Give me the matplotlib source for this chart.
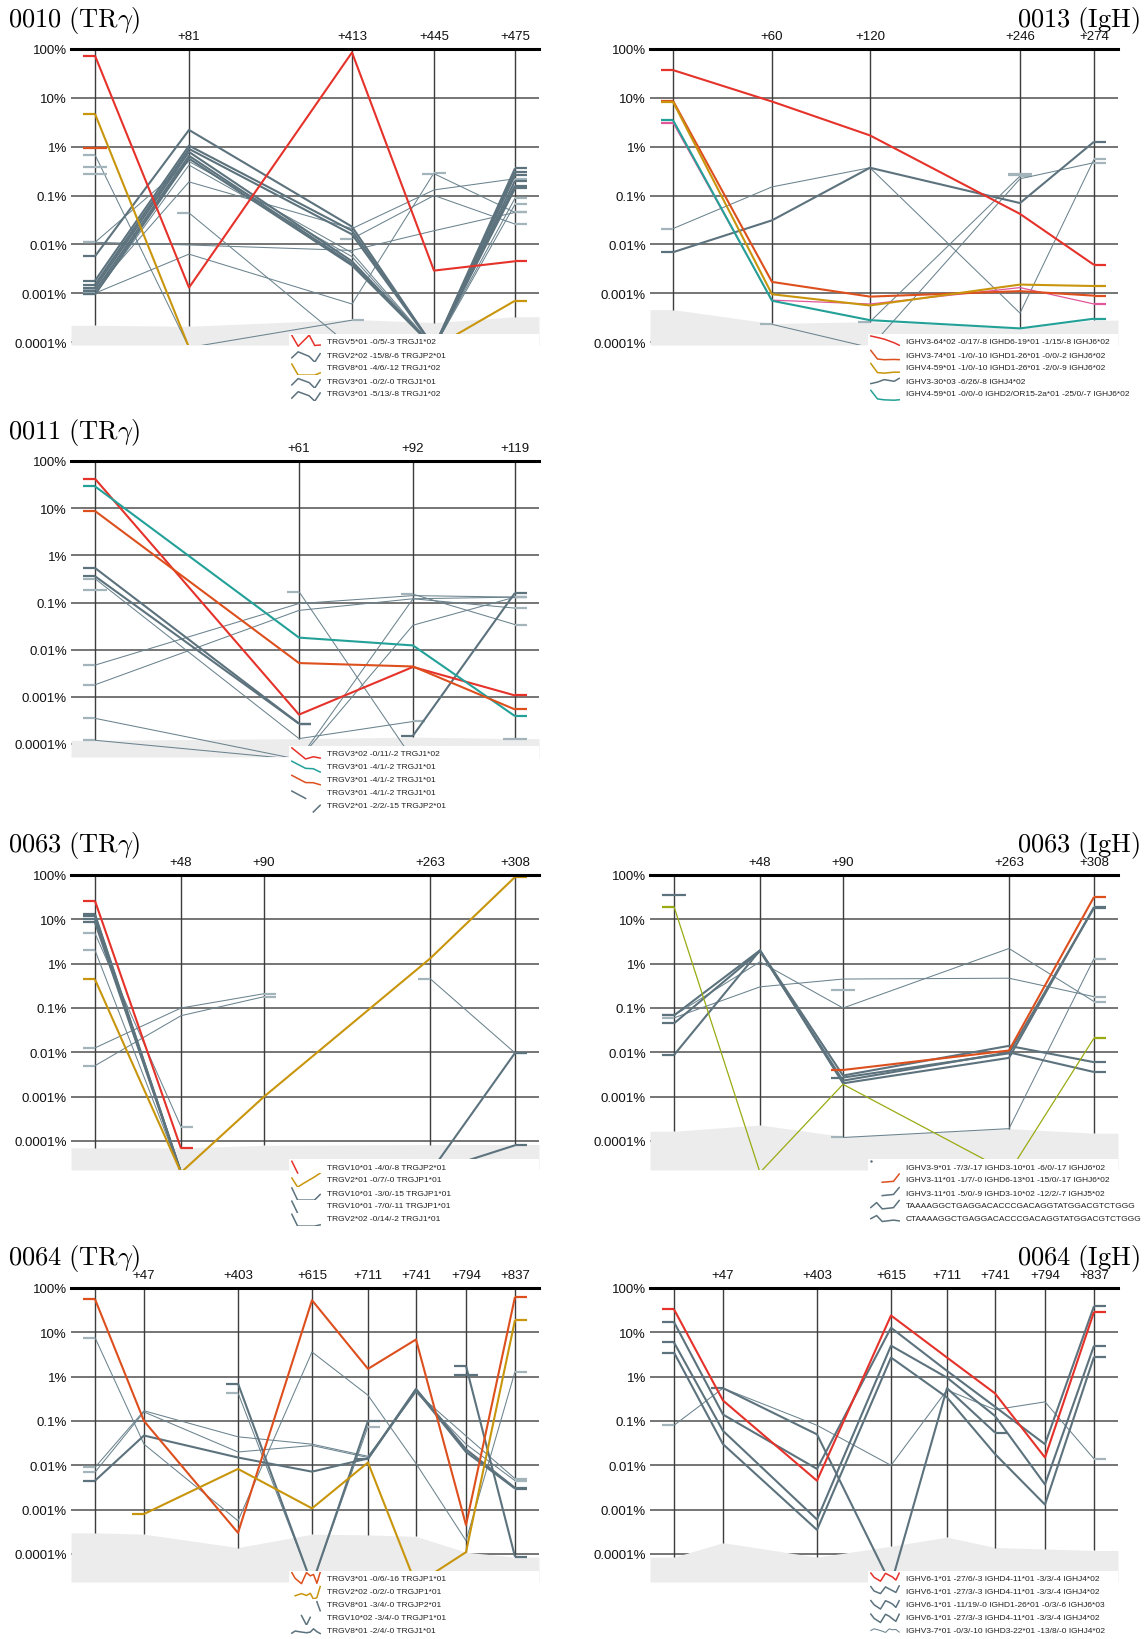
"""Clone frequency trajectories (TRγ / IgH) across follow-up samples, one panel per patient/locus."""
import matplotlib
matplotlib.use("Agg")
import matplotlib.pyplot as plt

plt.rcParams["font.family"] = ["Liberation Sans", "DejaVu Sans"]
plt.rcParams["mathtext.fontset"] = "cm"

# Values are % of reads. None = time point not drawn for this clone,
# 0 = sampled but clone not detected (drawn down to the panel floor).

# ---- 0010 (TRγ) ----
P0010_DAYS = [0, 81, 413, 445, 475]
P0010_LIMIT = [0.00022, 0.00021, 0.00029, 0.00025, 0.00033]
P0010_CLONES = [
    [73, 0.0013, 85, 0.0029, 0.0045],
    [0.0057, 2.2, 0.023, 0, 0.36],
    [4.7, 0, 0, 0, 0.0007],
    [0.0018, 1.05, 0.019, 0, 0.30],
    [0.0015, 0.9, 0.016, 0, 0.26],
    [0.0013, 0.78, 0.0045, 0, 0.20],
    [0.0011, 0.65, 0.0040, 0, 0.16],
    [0.00094, 0.57, 0.0037, 0, 0.14],
    [0.011, 0.5, 0.0067, 0, 0.088],
    [0.00094, 0.42, 0.0056, 0, 0.066],
    [0.0012, 0.19, 0.021, 0.13, 0.22],
    [0.011, 0.0097, 0.0075, 0.019, 0.045],
    [0.001, 0.0063, 0.0006, 0.29, None],
    [None, None, 0.013, 0.1, 0.026],
    [0.68, 0, 0.00028, None, None],
    [None, 0.044, 0, None, None],
    [None, None, None, 0.28, 0.045],
    [0.93, None, None, None, None],
    [0.38, None, None, None, None],
    [0.28, None, None, None, None],
]
P0010_LABELS = [
    "TRGV5*01 -0/5/-3 TRGJ1*02",
    "TRGV2*02 -15/8/-6 TRGJP2*01",
    "TRGV8*01 -4/6/-12 TRGJ1*02",
    "TRGV3*01 -0/2/-0 TRGJ1*01",
    "TRGV3*01 -5/13/-8 TRGJ1*02",
]

# ---- 0013 (IgH) ----
P0013_DAYS = [0, 60, 120, 246, 274]
P0013_LIMIT = [0.00046, 0.00024, 0.00026, 0.00019, 0.00028]
P0013_CLONES = [
    [37, 8.4, 1.7, 0.042, 0.0038],
    [8.7, 0.0017, 0.00085, 0.0011, 0.00089],
    [8.3, 0.00095, 0.00056, 0.0015, 0.0014],
    [0.0069, 0.031, 0.37, 0.07, 1.26],
    [3.5, 0.0007, 0.00028, 0.00019, 0.0003],
    [3.1, 0.00072, 0.0006, 0.0013, 0.0006],
    [0.021, 0.15, 0.37, 0.00039, 0.55],
    [None, 0.00023, 0, None, None],
    [None, None, 0.00026, 0.25, None],
    [None, None, 0, 0.22, 0.47],
    [None, None, None, 0.28, None],
    [None, None, None, 0.26, None],
]
P0013_LABELS = [
    "IGHV3-64*02 -0/17/-8 IGHD6-19*01 -1/15/-8 IGHJ6*02",
    "IGHV3-74*01 -1/0/-10 IGHD1-26*01 -0/0/-2 IGHJ6*02",
    "IGHV4-59*01 -1/0/-10 IGHD1-26*01 -2/0/-9 IGHJ6*02",
    "IGHV3-30*03 -6/26/-8 IGHJ4*02",
    "IGHV4-59*01 -0/0/-0 IGHD2/OR15-2a*01 -25/0/-7 IGHJ6*02",
]

# ---- 0011 (TRγ) ----
P0011_DAYS = [0, 61, 92, 119]
P0011_LIMIT = [0.00012, 0.00013, 0.00014, 0.00013]
P0011_CLONES = [
    [42, 0.00042, 0.0043, 0.00107],
    [29, 0.018, 0.0123, 0.00039],
    [8.7, 0.0052, 0.0044, 0.00054],
    [0.54, 0.00027, None, None],
    [None, None, 0.00015, 0.16],
    [0.36, 0.00027, None, None],
    [0.32, 0.00013, 0.0003, None],
    [0.0047, 0.095, 0.14, 0.13],
    [0.0018, 0.068, 0.12, 0.076],
    [0.00035, 0, None, None],
    [0.00012, 0, None, None],
    [None, 0.17, 0, None],
    [None, 0, 0.12, 0.13],
    [None, 0, 0.033, 0.13],
    [None, None, 0.15, 0.034],
    [0.18, None, None, None],
    [None, None, None, 0.00013],
]
P0011_LABELS = [
    "TRGV3*02 -0/11/-2 TRGJ1*02",
    "TRGV3*01 -4/1/-2 TRGJ1*01",
    "TRGV3*01 -4/1/-2 TRGJ1*01",
    "TRGV3*01 -4/1/-2 TRGJ1*01",
    "TRGV2*01 -2/2/-15 TRGJP2*01",
]

# ---- 0063 (TRγ) ----
P0063T_DAYS = [0, 48, 90, 263, 308]
P0063T_LIMIT = [0.00007, 0.00007, 0.00008, 0.000083, 0.000083]
P0063T_CLONES = [
    [26, 0.000068, None, None, None],
    [0.44, 0, 0.001, 1.3, 90],
    [12, 0, 0, 0, 0.0097],
    [10, 0, None, None, None],
    [8.5, 0, 0, 0, 0.00008],
    [13, 0, None, None, None],
    [4.8, 0.00021, None, None, None],
    [2.0, 0, None, None, None],
    [0.0126, 0.1, 0.21, None, None],
    [0.005, 0.067, 0.18, None, None],
    [None, None, None, 0.46, 0.0097],
]
P0063T_LABELS = [
    "TRGV10*01 -4/0/-8 TRGJP2*01",
    "TRGV2*01 -0/7/-0 TRGJP1*01",
    "TRGV10*01 -3/0/-15 TRGJP1*01",
    "TRGV10*01 -7/0/-11 TRGJP1*01",
    "TRGV2*02 -0/14/-2 TRGJ1*01",
]

# ---- 0063 (IgH) ----
P0063I_DAYS = [0, 48, 90, 263, 308]
P0063I_LIMIT = [0.000166, 0.00023, 0.000126, 0.00019, 0.00015]
P0063I_CLONES = [
    [35, None, None, None, None],
    [None, None, 0.004, 0.011, 32],
    [None, None, 0.0027, 0.0095, 18],
    [0.0087, 2.0, 0.002, 0.0075, 19],
    [0.068, 2.0, 0.003, 0.014, 0.006],
    [0.045, 1.9, 0.0023, 0.01, 0.0036],
    [19.4, 0, 0.0019, 0, 0.021],
    [0.068, 1.1, 0.1, 2.2, 0.14],
    [0.06, 0.3, 0.45, 0.47, 0.18],
    [None, None, 0.00012, 0.00019, 1.3],
    [None, None, 0.26, None, None],
]
P0063I_LABELS = [
    "IGHV3-9*01 -7/3/-17 IGHD3-10*01 -6/0/-17 IGHJ6*02",
    "IGHV3-11*01 -1/7/-0 IGHD6-13*01 -15/0/-17 IGHJ6*02",
    "IGHV3-11*01 -5/0/-9 IGHD3-10*02 -12/2/-7 IGHJ5*02",
    "TAAAAGGCTGAGGACACCCGACAGGTATGGACGTCTGGG",
    "CTAAAAGGCTGAGGACACCCGACAGGTATGGACGTCTGGG",
]

# ---- 0064 (TRγ) ----
P0064T_DAYS = [0, 47, 403, 615, 711, 741, 794, 837]
P0064T_LIMIT = [0.0003, 0.00028, 0.00014, 0.00028, 0.00027, 0.00025, 0.00011, 0.000085]
P0064T_CLONES = [
    [56, 0.1, 0.0003, 53, 1.5, 6.9, 0.00045, 63],
    [None, 0.0008, 0.0083, 0.00107, 0.0116, 0, 0.00011, 19],
    [None, None, None, None, None, None, 1.75, 0.000087],
    [None, None, 0.7, 0, 0.1, None, None, None],
    [0.0045, 0.047, 0.015, 0.0072, 0.0143, 0.53, 0.023, 0.0031],
    [7.6, 0.03, 0.00056, 3.6, 0.38, 0.011, 0.0002, 1.3],
    [0.009, 0.17, 0.044, 0.03, 0.016, 0.45, 0.046, 0.005],
    [0.007, 0.16, 0.02, 0.028, 0.015, 0.45, 0.03, 0.0045],
    [None, None, 0.43, 0, 0.075, None, None, None],
    [None, None, None, None, 0.014, 0.5, 0.02, 0.003],
    [None, None, None, None, None, None, 1.1, None],
]
P0064T_LABELS = [
    "TRGV3*01 -0/6/-16 TRGJP1*01",
    "TRGV2*02 -0/2/-0 TRGJP1*01",
    "TRGV8*01 -3/4/-0 TRGJP2*01",
    "TRGV10*02 -3/4/-0 TRGJP1*01",
    "TRGV8*01 -2/4/-0 TRGJ1*01",
]

# ---- 0064 (IgH) ----
P0064I_DAYS = [0, 47, 403, 615, 711, 741, 794, 837]
P0064I_LIMIT = [0.000085, 0.00018, 0.000085, 0.00015, 0.00024, 0.00014, 0.00013, 0.00012]
P0064I_CLONES = [
    [33, 0.29, 0.0045, 24, 2.7, 0.42, 0.015, 29],
    [17, 0.14, 0.0083, 12.7, 1.35, 0.21, 0.03, 39],
    [5.9, 0.06, 0.0006, 5, 0.95, 0.13, 0.0037, 5],
    [3.5, 0.03, 0.00035, 2.7, 0.34, 0.018, 0.0013, 2.8],
    [0.08, 0.55, 0.08, 0.01, 0.5, 0.18, 0.27, 0.014],
    [None, 0.55, 0.05, 0, 0.55, 0.055, None, None],
]
P0064I_LABELS = [
    "IGHV6-1*01 -27/6/-3 IGHD4-11*01 -3/3/-4 IGHJ4*02",
    "IGHV6-1*01 -27/3/-3 IGHD4-11*01 -3/3/-4 IGHJ4*02",
    "IGHV6-1*01 -11/19/-0 IGHD1-26*01 -0/3/-6 IGHJ6*03",
    "IGHV6-1*01 -27/3/-3 IGHD4-11*01 -3/3/-4 IGHJ4*02",
    "IGHV3-7*01 -0/3/-10 IGHD3-22*01 -13/8/-0 IGHJ4*02",
]

# ---- styling ----
STYLE = {  # color, linewidth, zorder, end-dash color
    "red": ("#e5322a", 1.5, 6, "#e5322a"),
    "orange": ("#dd4f1d", 1.5, 6, "#dd4f1d"),
    "gold": ("#c8950c", 1.5, 6, "#c8950c"),
    "teal": ("#23a198", 1.5, 6, "#23a198"),
    "pink": ("#e2579a", 0.9, 5, "#e2579a"),
    "lime": ("#9aab12", 0.9, 5, "#9aab12"),
    "grey": ("#5c727d", 1.5, 4, "#5c727d"),
    "thin": ("#6b838e", 0.75, 3, "#a4b4bb"),
}
P0010_STYLE = ["red", "grey", "gold", "grey", "grey", "grey", "grey", "grey", "thin", "thin",
               "thin", "thin", "thin", "thin", "thin", "thin", "thin", "orange", "thin", "thin"]
P0013_STYLE = ["red", "orange", "gold", "grey", "teal", "pink", "thin", "thin", "thin", "thin",
               "thin", "thin"]
P0011_STYLE = ["red", "teal", "orange", "grey", "grey", "grey", "thin", "thin", "thin", "thin",
               "thin", "thin", "thin", "thin", "thin", "thin", "thin"]
P0063T_STYLE = ["red", "gold", "grey", "grey", "grey", "grey", "thin", "thin", "thin", "thin", "thin"]
P0063I_STYLE = ["grey", "orange", "grey", "grey", "grey", "grey", "lime", "thin", "thin", "thin", "thin"]
P0064T_STYLE = ["orange", "gold", "grey", "grey", "grey", "thin", "thin", "thin", "thin", "grey",
                "grey"]
P0064I_STYLE = ["red", "grey", "grey", "grey", "thin", "grey"]

# ---- layout (pixels) ----
W, H = 1148, 1640
AX_W = 468
LEFT_X, RIGHT_X = 71, 650
ROWS = {1: (50, 343, 346), 2: (462, 745, 758), 3: (876, 1142, 1171), 4: (1289, 1555, 1583)}
COLS = {
    "0010": [24, 118, 281, 363, 444],
    "0013": [23, 122, 220, 370, 444],
    "0011": [24, 228, 342, 444],
    "0063": [24, 110, 193, 359, 444],
    "0064": [24, 73, 167, 241, 297, 345, 395, 444],
}
DASH = 12
GRID = "#4f4f4f"

fig = plt.figure(figsize=(W / 100, H / 100), dpi=100)


def rect(x, y, w, h):
    return [x / W, 1 - (y + h) / H, w / W, h / H]


def trace(vals, cols, floor):
    xs, ys = [], []
    for c, v in zip(cols, vals):
        if v is None:
            continue
        xs.append(c)
        ys.append(v if v > 0 else floor)
    return xs, ys


def draw_panel(title, side, row, days, cols, limit, clones, styles, labels):
    top, e4, bottom = ROWS[row]
    x0 = LEFT_X if side == "left" else RIGHT_X
    decade = (e4 - top) / 6
    ymin = 10 ** (-4 - (bottom - e4) / decade)
    below = ymin * 10 ** (-2.5 / decade)

    ax = fig.add_axes(rect(x0, top, AX_W, bottom - top))
    ax.set_xlim(0, AX_W)
    ax.set_yscale("log")
    ax.set_ylim(ymin, 100)
    for s in ax.spines.values():
        s.set_visible(False)
    ax.set_xticks([])
    ax.yaxis.set_minor_locator(matplotlib.ticker.NullLocator())
    ax.set_yticks([10.0 ** k for k in range(-4, 3)],
                  ["0.0001%", "0.001%", "0.01%", "0.1%", "1%", "10%", "100%"])
    ax.tick_params(axis="y", length=0, pad=3, labelsize=9.5, labelcolor="#111111")

    for k in range(-4, 2):
        ax.axhline(10.0 ** k, color=GRID, lw=1.1, zorder=1)
    ax.axhline(100, color="black", lw=2.2, zorder=8, clip_on=False)

    gx = [0] + cols + [AX_W]
    gy = [limit[0]] + limit + [limit[-1]]
    ax.fill_between(gx, ymin, gy, color="#ececec", lw=0, zorder=2)
    ax.vlines(cols, limit, 100, color="#3d3d3d", lw=1.0, zorder=2.5)

    for c, d in zip(cols[1:], days[1:]):
        ax.annotate(f"+{d}", (c, 100), xytext=(0, 9.4), textcoords="offset points",
                    ha="center", va="center", fontsize=9.5, color="#111111",
                    annotation_clip=False)

    for vals, st in zip(clones, styles):
        color, lw, z, dcol = STYLE[st]
        xs, ys = trace(vals, cols, below)
        ax.plot(xs, ys, color=color, lw=lw, zorder=z, solid_capstyle="butt")
        idx = [i for i, v in enumerate(vals) if v is not None]
        first, last = idx[0], idx[-1]
        dlw = max(lw, 1.6)
        if vals[first] > 0:
            ax.plot([cols[first] - DASH, cols[first]], [vals[first]] * 2,
                    color=dcol, lw=dlw, zorder=z, solid_capstyle="butt")
        if vals[last] > 0:
            ax.plot([cols[last], cols[last] + DASH], [vals[last]] * 2,
                    color=dcol, lw=dlw, zorder=z, solid_capstyle="butt")

    # title
    tx = 8 if side == "left" else 1140
    ax.text(tx / W, 1 - (top - 30) / H, title, transform=fig.transFigure,
            ha="left" if side == "left" else "right", va="center", fontsize=19)

    # legend with a miniature of each clone's trajectory as handle
    box_top = bottom - 11
    box_h = 5 * 13 + 8
    lax = fig.add_axes(rect(x0 + 218, box_top, AX_W - 218, box_h), zorder=5)
    lax.set_xlim(0, AX_W - 218)
    lax.set_ylim(box_h, 0)
    lax.set_facecolor("white")
    lax.set_xticks([])
    lax.set_yticks([])
    for s in lax.spines.values():
        s.set_visible(False)
    for i, lab in enumerate(labels):
        cy = 8 + 13 * i
        lax.text(38, cy, lab, fontsize=6.0, va="center", ha="left", color="#222222")
        color, lw, z, dcol = STYLE[styles[i]]
        hax = fig.add_axes(rect(x0 + 220, box_top + cy - 7, 30, 14), zorder=6)
        hax.set_xlim(cols[0] - DASH, cols[-1] + DASH)
        hax.set_yscale("log")
        hax.set_ylim(ymin, 100)
        hax.axis("off")
        xs, ys = trace(clones[i], cols, below)
        if len(xs) == 1:
            hax.plot(xs, ys, ls="none", marker="o", ms=0.8, color=color)
        else:
            hax.plot(xs, ys, color=color, lw=min(lw, 1.1))


draw_panel(r"$\mathrm{0010\ (TR}\gamma\mathrm{)}$", "left", 1, P0010_DAYS, COLS["0010"],
           P0010_LIMIT, P0010_CLONES, P0010_STYLE, P0010_LABELS)
draw_panel(r"$\mathrm{0013\ (IgH)}$", "right", 1, P0013_DAYS, COLS["0013"],
           P0013_LIMIT, P0013_CLONES, P0013_STYLE, P0013_LABELS)
draw_panel(r"$\mathrm{0011\ (TR}\gamma\mathrm{)}$", "left", 2, P0011_DAYS, COLS["0011"],
           P0011_LIMIT, P0011_CLONES, P0011_STYLE, P0011_LABELS)
draw_panel(r"$\mathrm{0063\ (TR}\gamma\mathrm{)}$", "left", 3, P0063T_DAYS, COLS["0063"],
           P0063T_LIMIT, P0063T_CLONES, P0063T_STYLE, P0063T_LABELS)
draw_panel(r"$\mathrm{0063\ (IgH)}$", "right", 3, P0063I_DAYS, COLS["0063"],
           P0063I_LIMIT, P0063I_CLONES, P0063I_STYLE, P0063I_LABELS)
draw_panel(r"$\mathrm{0064\ (TR}\gamma\mathrm{)}$", "left", 4, P0064T_DAYS, COLS["0064"],
           P0064T_LIMIT, P0064T_CLONES, P0064T_STYLE, P0064T_LABELS)
draw_panel(r"$\mathrm{0064\ (IgH)}$", "right", 4, P0064I_DAYS, COLS["0064"],
           P0064I_LIMIT, P0064I_CLONES, P0064I_STYLE, P0064I_LABELS)

fig.savefig("out.png", dpi=100, facecolor="white")
